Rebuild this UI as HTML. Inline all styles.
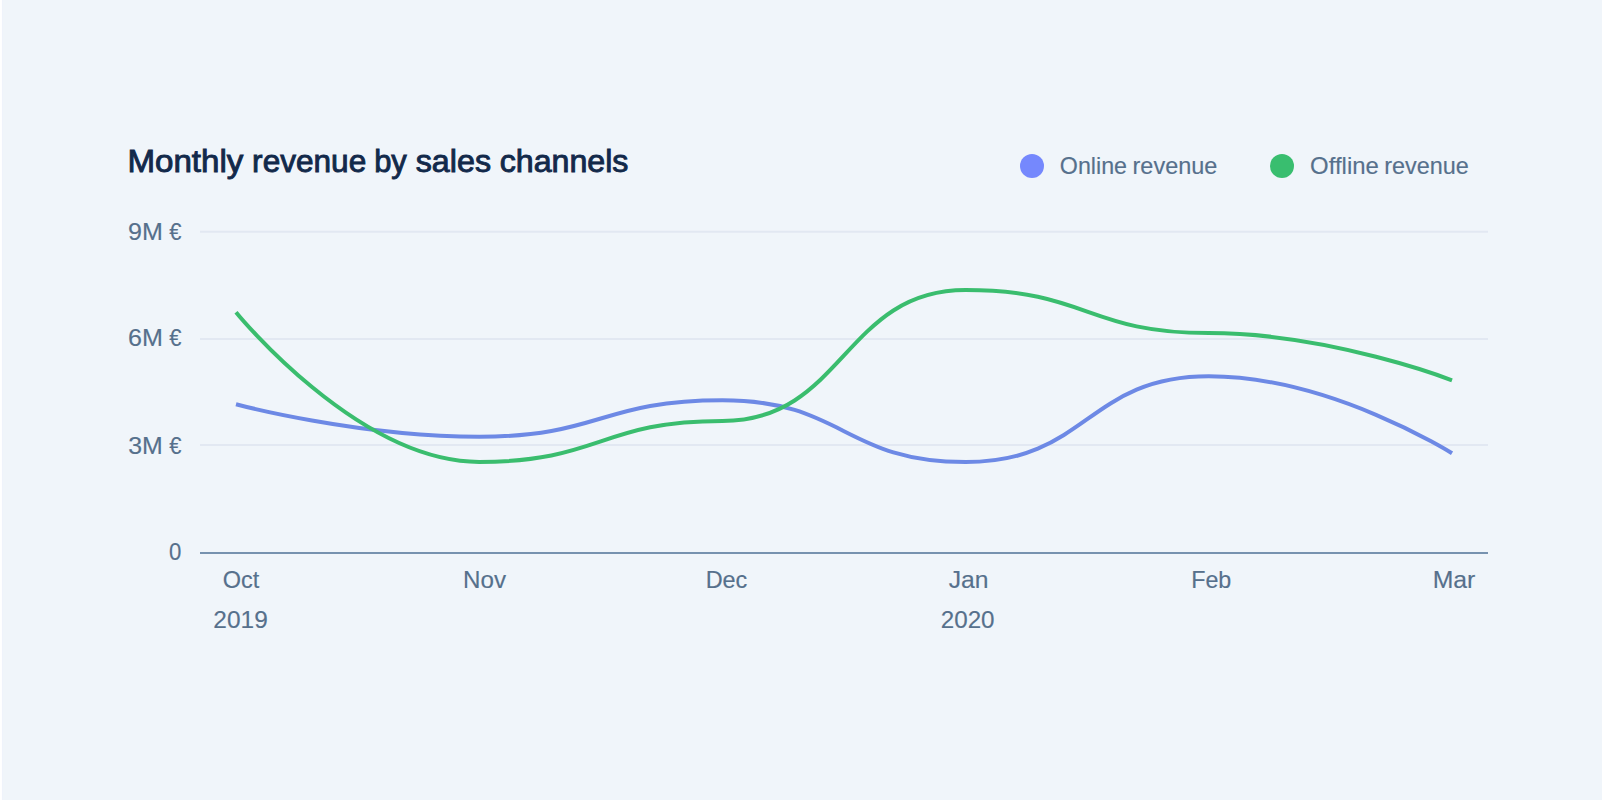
<!DOCTYPE html>
<html lang="en">
<head>
<meta charset="utf-8">
<title>Monthly revenue by sales channels</title>
<style>
html,body{margin:0;padding:0;background:#fff;}
body{width:1602px;height:800px;overflow:hidden;position:relative;}
svg{display:block;position:absolute;left:0;top:0;}
text{font-family:"Liberation Sans",sans-serif;white-space:pre;}
.t{fill:#56708c;font-size:23.6px;stroke:#56708c;stroke-width:0.15px;}
.title{fill:#12294a;font-size:31.0px;stroke:#12294a;stroke-width:0.9px;stroke-linejoin:miter;}
</style>
</head>
<body>
<svg width="1602" height="800" viewBox="0 0 1602 800">
<rect x="0" y="0" width="1602" height="800" fill="#ffffff"/>
<rect x="1.9" y="0" width="1600.1" height="800" fill="#f0f5fa"/>
<rect x="2" y="0" width="1" height="800" fill="#eff3fb"/>
<!-- grid lines -->
<rect x="200" y="230.75" width="1288" height="2" fill="#e2e8f2"/>
<rect x="200" y="338" width="1288" height="2" fill="#e2e8f2"/>
<rect x="200" y="444" width="1288" height="2" fill="#e2e8f2"/>
<rect x="200" y="552" width="1288" height="2" fill="#7792af"/>
<!-- series: online (blue), offline (green) -->
<path d="M236.00 404.20 C236.00 404.20 357.60 436.70 479.20 436.70 C600.80 436.70 600.80 400.30 722.40 400.30 C844.00 400.30 844.00 462.10 965.60 462.10 C1087.20 462.10 1087.20 376.30 1208.80 376.30 C1330.40 376.30 1452.00 453.30 1452.00 453.30" fill="none" stroke="#6d89e5" stroke-width="4"/>
<path d="M236.00 312.20 C236.00 312.20 357.60 461.90 479.20 461.90 C600.80 461.90 600.80 420.90 722.40 420.90 C844.00 420.90 844.00 290.00 965.60 290.00 C1087.20 290.00 1087.20 333.10 1208.80 333.10 C1330.40 333.10 1452.00 380.30 1452.00 380.30" fill="none" stroke="#3abd6e" stroke-width="4"/>
<!-- legend dots -->
<circle cx="1032" cy="166" r="12" fill="#7588fd"/>
<circle cx="1282" cy="166" r="12" fill="#39be6f"/>
<!-- text -->
<text id="title" class="title" y="171.70"><tspan x="127.45" textLength="115.95" lengthAdjust="spacingAndGlyphs">Monthly</tspan> <tspan x="252.11" textLength="114.14" lengthAdjust="spacingAndGlyphs">revenue</tspan> <tspan x="374.17" textLength="32.61" lengthAdjust="spacingAndGlyphs">by</tspan> <tspan x="415.72" textLength="75.30" lengthAdjust="spacingAndGlyphs">sales</tspan> <tspan x="499.66" textLength="128.76" lengthAdjust="spacingAndGlyphs">channels</tspan></text>
<text id="leg1" class="t" y="173.90"><tspan x="1059.84" textLength="67.20" lengthAdjust="spacingAndGlyphs">Online</tspan> <tspan x="1132.50" textLength="84.89" lengthAdjust="spacingAndGlyphs">revenue</tspan></text>
<text id="leg2" class="t" y="173.90"><tspan x="1310.12" textLength="68.71" lengthAdjust="spacingAndGlyphs">Offline</tspan> <tspan x="1384.30" textLength="84.56" lengthAdjust="spacingAndGlyphs">revenue</tspan></text>
<text id="y9" class="t" y="239.90"><tspan x="128.13" textLength="34.84" lengthAdjust="spacingAndGlyphs">9M</tspan> <tspan x="169.22" textLength="12.19" lengthAdjust="spacingAndGlyphs">€</tspan></text>
<text id="y6" class="t" y="346.05"><tspan x="128.14" textLength="34.91" lengthAdjust="spacingAndGlyphs">6M</tspan> <tspan x="169.22" textLength="12.19" lengthAdjust="spacingAndGlyphs">€</tspan></text>
<text id="y3" class="t" y="453.90"><tspan x="128.17" textLength="34.58" lengthAdjust="spacingAndGlyphs">3M</tspan> <tspan x="169.22" textLength="12.19" lengthAdjust="spacingAndGlyphs">€</tspan></text>
<text id="y0" class="t" y="559.80"><tspan x="168.98" textLength="12.33" lengthAdjust="spacingAndGlyphs">0</tspan></text>
<text id="oct" class="t" y="587.80"><tspan x="222.68" textLength="36.59" lengthAdjust="spacingAndGlyphs">Oct</tspan></text>
<text id="nov" class="t" y="587.80"><tspan x="463.04" textLength="42.98" lengthAdjust="spacingAndGlyphs">Nov</tspan></text>
<text id="dec" class="t" y="587.80"><tspan x="705.66" textLength="41.67" lengthAdjust="spacingAndGlyphs">Dec</tspan></text>
<text id="jan" class="t" y="587.80"><tspan x="948.76" textLength="39.79" lengthAdjust="spacingAndGlyphs">Jan</tspan></text>
<text id="feb" class="t" y="587.80"><tspan x="1191.19" textLength="40.13" lengthAdjust="spacingAndGlyphs">Feb</tspan></text>
<text id="mar" class="t" y="587.80"><tspan x="1432.69" textLength="42.67" lengthAdjust="spacingAndGlyphs">Mar</tspan></text>
<text id="y2019" class="t" y="627.90"><tspan x="213.39" textLength="54.42" lengthAdjust="spacingAndGlyphs">2019</tspan></text>
<text id="y2020" class="t" y="627.90"><tspan x="940.74" textLength="53.82" lengthAdjust="spacingAndGlyphs">2020</tspan></text>
</svg>
</body>
</html>
